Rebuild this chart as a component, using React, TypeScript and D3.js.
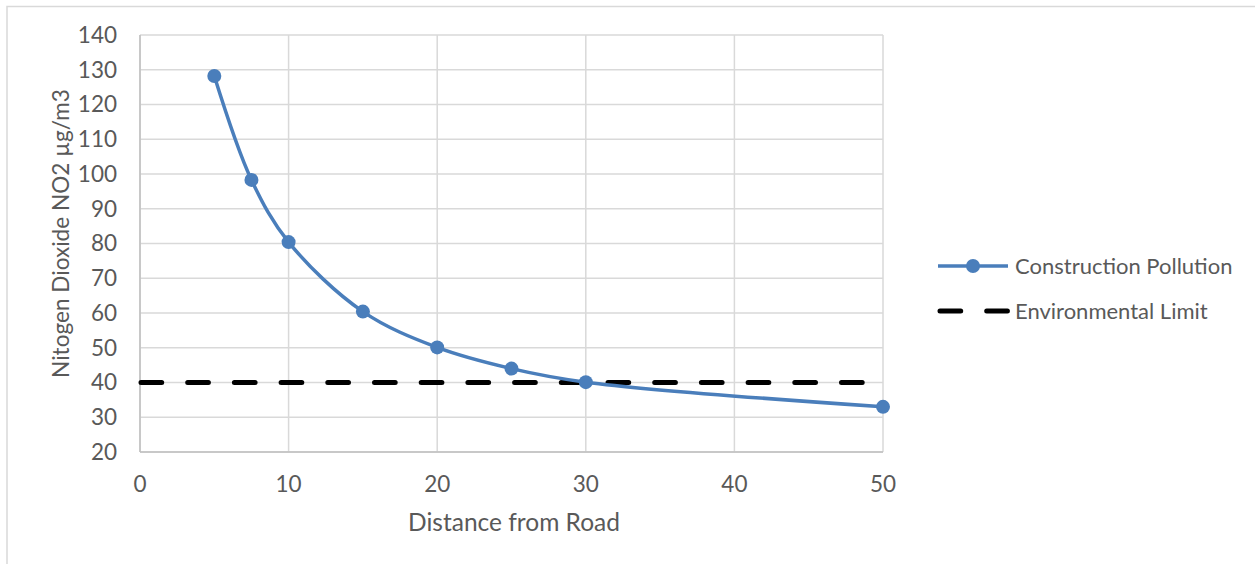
import React from "react";
import * as d3 from "d3";

const distances = [5, 7.5, 10, 15, 20, 25, 30, 50];
const pollution = [128.2, 98.3, 80.4, 60.4, 50.1, 44.0, 40.1, 33.0];
const limitX = [0, 50];
const limitValue = 40;
const xTicks = [0, 10, 20, 30, 40, 50];
const yTicks = [20, 30, 40, 50, 60, 70, 80, 90, 100, 110, 120, 130, 140];
const seriesNames = ["Construction Pollution", "Environmental Limit"];

const W = 1255;
const H = 564;
const left = 140;
const right = 883;
const top = 35;
const bottom = 452;
const font = "Lato, 'Open Sans', sans-serif";
const textColor = "#595959";
const blue = "#4a7ebb";

export default function App() {
  const x = d3.scaleLinear().domain([0, 50]).range([left, right]);
  const y = d3.scaleLinear().domain([20, 140]).range([bottom, top]);
  const pts: [number, number][] = distances.map((d, i) => [d, pollution[i]]);
  const line = d3
    .line<[number, number]>()
    .x((d) => x(d[0]))
    .y((d) => y(d[1]))
    .curve(d3.curveCatmullRom.alpha(0.5));
  const limitLine = d3
    .line<number>()
    .x((d) => x(d))
    .y(() => y(limitValue));

  return (
    <svg
      width={W}
      height={H}
      style={{ position: "absolute", left: 0, top: 0, background: "#fff" }}
      fontFamily={font}
    >
      <rect x={7} y={6.5} width={1300} height={700} fill="#fff" stroke="#d9d9d9" strokeWidth={1.5} />
      {yTicks.map((t) => (
        <line key={"gy" + t} x1={left} x2={right} y1={y(t)} y2={y(t)} stroke="#d9d9d9" strokeWidth={1.5} />
      ))}
      {xTicks.map((t) => (
        <line key={"gx" + t} x1={x(t)} x2={x(t)} y1={top} y2={bottom} stroke="#d9d9d9" strokeWidth={1.5} />
      ))}
      <line x1={left} x2={left} y1={top} y2={bottom} stroke="#bfbfbf" strokeWidth={1.5} />
      <line x1={left} x2={right} y1={bottom} y2={bottom} stroke="#bfbfbf" strokeWidth={1.5} />
      {yTicks.map((t) => (
        <text key={"ly" + t} x={117} y={y(t)} dy="0.35em" textAnchor="end" fontSize={22.5} fill={textColor}>
          {t}
        </text>
      ))}
      {xTicks.map((t) => (
        <text key={"lx" + t} x={x(t)} y={491.5} textAnchor="middle" fontSize={22.5} fill={textColor}>
          {t}
        </text>
      ))}
      <text x={514} y={531} textAnchor="middle" fontSize={24.5} fill={textColor}>
        Distance from Road
      </text>
      <text
        transform={`translate(61,233.5) rotate(-90)`}
        dy="0.35em"
        textAnchor="middle"
        fontSize={22.6}
        fill={textColor}
      >
        Nitogen Dioxide NO2 µg/m3
      </text>
      <path
        d={limitLine(limitX) || ""}
        fill="none"
        stroke="#000"
        strokeWidth={5}
        strokeLinecap="round"
        strokeDasharray="20.7 26"
        strokeDashoffset={-1}
      />
      <path d={line(pts) || ""} fill="none" stroke={blue} strokeWidth={3.5} strokeLinejoin="round" />
      {pts.map((p, i) => (
        <circle key={"m" + i} cx={x(p[0])} cy={y(p[1])} r={7} fill={blue} />
      ))}
      <line x1={938} x2={1008} y1={266} y2={266} stroke={blue} strokeWidth={3.5} />
      <circle cx={973} cy={266} r={7} fill={blue} />
      <text x={1015} y={266} dy="0.35em" fontSize={22} fill={textColor}>
        {seriesNames[0]}
      </text>
      <line x1={940} x2={1008} y1={311} y2={311} stroke="#000" strokeWidth={5} strokeLinecap="round" strokeDasharray="20.7 26" />
      <text x={1015} y={311} dy="0.35em" fontSize={22} fill={textColor}>
        {seriesNames[1]}
      </text>
    </svg>
  );
}
